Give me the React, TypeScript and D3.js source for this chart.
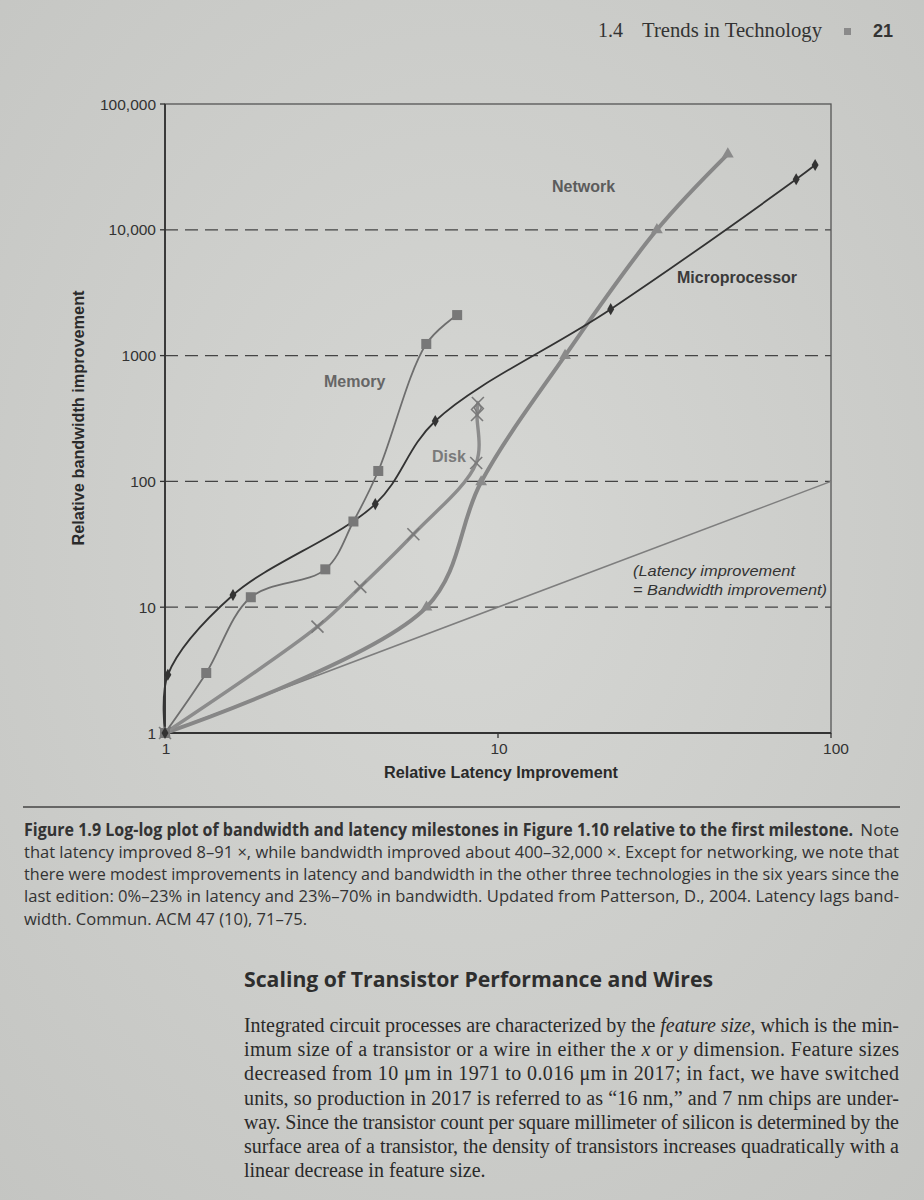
import React from 'react';
import * as d3 from 'd3';

// Milestones relative to the first one (latency x, bandwidth y)
const microLatency = [1, 1.02, 1.6, 4.28, 6.48, 21.8, 78.6, 89.6];
const microBandwidth = [1, 2.9, 12.5, 66, 302, 2340, 25200, 32700];
const memoryLatency = [1, 1.33, 1.81, 3.03, 3.68, 4.37, 6.09, 7.54];
const memoryBandwidth = [1, 3, 12, 20, 48, 121, 1237, 2100];
const diskLatency = [1, 2.87, 3.86, 5.57, 8.6, 8.65, 8.7];
const diskBandwidth = [1, 7, 14.5, 38, 140, 337, 420];
const networkLatency = [1, 6.1, 8.9, 15.9, 30, 49];
const networkBandwidth = [1, 10, 99, 1000, 10000, 40000];
const equalLatency = [1, 100];
const equalBandwidth = [1, 100];

const yTicks = [1, 10, 100, 1000, 10000, 100000];
const yTickLabels = ['1', '10', '100', '1000', '10,000', '100,000'];
const xTicks = [1, 10, 100];
const xTickLabels = ['1', '10', '100'];
const gridValues = [10, 100, 1000, 10000];

const captionLines = [
  'that latency improved 8–91 ×, while bandwidth improved about 400–32,000 ×. Except for networking, we note that',
  'there were modest improvements in latency and bandwidth in the other three technologies in the six years since the',
  'last edition: 0%–23% in latency and 23%–70% in bandwidth.  Updated from Patterson, D., 2004. Latency lags band-',
];

const serif = '"Liberation Serif", "Times New Roman", serif';
const sans = '"Liberation Sans", Arial, sans-serif';
const capFont = '"Open Sans", "Noto Sans", sans-serif';

const App: React.FC = () => {
  const x = d3.scaleLog().domain([1, 100]).range([165, 831]);
  const y = d3.scaleLog().domain([1, 100000]).range([733, 104]);

  const toPts = (lx: number[], by: number[]) => lx.map((v, i) => [x(v), y(by[i])] as [number, number]);
  const smooth = d3.line().curve(d3.curveCatmullRom.alpha(0.5));
  const straight = d3.line();

  const micro = toPts(microLatency, microBandwidth);
  const memory = toPts(memoryLatency, memoryBandwidth);
  const disk = toPts(diskLatency, diskBandwidth);
  const network = toPts(networkLatency, networkBandwidth);
  const equal = toPts(equalLatency, equalBandwidth);

  const tri = d3.symbol().type(d3.symbolTriangle).size(60)();
  const diamond = d3.symbol().type(d3.symbolDiamond).size(42)();

  const bodyLines: React.ReactNode[] = [
    <>Integrated circuit processes are characterized by the <tspan fontStyle="italic">feature size</tspan>, which is the min-</>,
    <>imum size of a transistor or a wire in either the <tspan fontStyle="italic">x</tspan> or <tspan fontStyle="italic">y</tspan> dimension. Feature sizes</>,
    <>decreased from 10 μm in 1971 to 0.016 μm in 2017; in fact, we have switched</>,
    <>units, so production in 2017 is referred to as “16 nm,” and 7 nm chips are under-</>,
    <>way. Since the transistor count per square millimeter of silicon is determined by the</>,
    <>surface area of a transistor, the density of transistors increases quadratically with a</>,
  ];

  return (
    <svg width={924} height={1200} style={{ position: 'absolute', left: 0, top: 0, display: 'block' }}>
      <defs>
        <radialGradient id="paper" cx="50%" cy="45%" r="75%">
          <stop offset="0%" stopColor="#d6d7d4" />
          <stop offset="100%" stopColor="#c4c5c2" />
        </radialGradient>
      </defs>
      <rect width={924} height={1200} fill="url(#paper)" />

      {/* running head */}
      <text x={598} y={37} fontFamily={serif} fontSize={20} fill="#333">1.4</text>
      <text x={642} y={37} fontFamily={serif} fontSize={20} fill="#333" textLength={180} lengthAdjust="spacingAndGlyphs">Trends in Technology</text>
      <rect x={844} y={28} width={7} height={7} fill="#8a8a8a" />
      <text x={873} y={37} fontFamily={sans} fontSize={18} fontWeight="bold" fill="#333">21</text>

      {/* dashed grid */}
      {gridValues.map(v => (
        <line key={v} x1={165} x2={831} y1={y(v)} y2={y(v)} stroke="#444" strokeWidth={1.3} strokeDasharray="13,7" />
      ))}

      {/* frame */}
      <rect x={165} y={104} width={666} height={629} fill="none" stroke="#555" strokeWidth={1.3} />
      <line x1={165} x2={165} y1={104} y2={733} stroke="#333" strokeWidth={1.8} />
      <line x1={165} x2={831} y1={733} y2={733} stroke="#333" strokeWidth={1.8} />

      {yTicks.map((v, i) => (
        <g key={v}>
          <line x1={160} x2={165} y1={y(v)} y2={y(v)} stroke="#333" strokeWidth={1.3} />
          <text x={156} y={y(v) + 5.5} textAnchor="end" fontFamily={sans} fontSize={15.5} fill="#333">{yTickLabels[i]}</text>
        </g>
      ))}
      {xTicks.map((v, i) => (
        <g key={v}>
          <line x1={x(v)} x2={x(v)} y1={733} y2={738} stroke="#333" strokeWidth={1.3} />
          <text x={x(v) + (i === 2 ? 5 : 1)} y={754} textAnchor="middle" fontFamily={sans} fontSize={15.5} fill="#333">{xTickLabels[i]}</text>
        </g>
      ))}

      <text x={501} y={778} textAnchor="middle" fontFamily={sans} fontSize={16} fontWeight="bold" fill="#2a2a2a" textLength={234} lengthAdjust="spacingAndGlyphs">Relative Latency Improvement</text>
      <text transform="translate(84,418) rotate(-90)" textAnchor="middle" fontFamily={sans} fontSize={16} fontWeight="bold" fill="#2a2a2a" textLength={255} lengthAdjust="spacingAndGlyphs">Relative bandwidth improvement</text>

      {/* series */}
      <path d={straight(equal) || ''} fill="none" stroke="#7e7e7e" strokeWidth={1.5} />
      <path d={smooth(network) || ''} fill="none" stroke="#878787" strokeWidth={4} strokeLinejoin="round" />
      <path d={smooth(disk) || ''} fill="none" stroke="#8c8c8c" strokeWidth={3.4} strokeLinejoin="round" />
      <path d={smooth(memory) || ''} fill="none" stroke="#6e6e6e" strokeWidth={1.8} />
      <path d={smooth(micro) || ''} fill="none" stroke="#333" strokeWidth={1.8} />

      {network.map(([px, py], i) => (
        <path key={'n' + i} d={tri || ''} transform={`translate(${px},${py})`} fill="#8a8a8a" />
      ))}
      {disk.map(([px, py], i) => (
        <g key={'d' + i} stroke="#7a7a7a" strokeWidth={1.6}>
          <line x1={px - 6} x2={px + 6} y1={py - 6} y2={py + 6} />
          <line x1={px - 6} x2={px + 6} y1={py + 6} y2={py - 6} />
        </g>
      ))}
      <path d={diamond || ''} transform={`translate(${disk[disk.length - 1][0]},${disk[disk.length - 1][1] + 5})`} fill="none" stroke="#7a7a7a" strokeWidth={1.5} />
      {memory.map(([px, py], i) => (
        <rect key={'m' + i} x={px - 5} y={py - 5} width={10} height={10} fill="#787878" />
      ))}
      {micro.map(([px, py], i) => (
        <path key={'p' + i} d={diamond || ''} transform={`translate(${px},${py})`} fill="#333" />
      ))}

      {/* series labels */}
      <text x={552} y={192} fontFamily={sans} fontSize={16} fontWeight="bold" fill="#5c5c5c">Network</text>
      <text x={677} y={283} fontFamily={sans} fontSize={16} fontWeight="bold" fill="#3a3a3a">Microprocessor</text>
      <text x={324} y={387} fontFamily={sans} fontSize={16} fontWeight="bold" fill="#666">Memory</text>
      <text x={432} y={462} fontFamily={sans} fontSize={16} fontWeight="bold" fill="#7a7a7a">Disk</text>
      <text x={633} y={576} fontFamily={sans} fontSize={15} fontStyle="italic" fill="#333" textLength={162} lengthAdjust="spacingAndGlyphs">(Latency improvement</text>
      <text x={633} y={595} fontFamily={sans} fontSize={15} fontStyle="italic" fill="#333" textLength={194} lengthAdjust="spacingAndGlyphs">= Bandwidth improvement)</text>

      {/* caption */}
      <line x1={23} x2={900} y1={807} y2={807} stroke="#444" strokeWidth={1.5} />
      <text x={24} y={836} fontFamily={capFont} fontSize={17} fontWeight="bold" fill="#333" textLength={829} lengthAdjust="spacingAndGlyphs">Figure 1.9  Log-log plot of bandwidth and latency milestones in Figure 1.10 relative to the first milestone.</text>
      <text x={899} y={836} textAnchor="end" fontFamily={capFont} fontSize={17} fill="#333">Note</text>
      {captionLines.map((t, i) => (
        <text key={i} x={24} y={858 + i * 22.2} fontFamily={capFont} fontSize={17} fill="#333" textLength={875} lengthAdjust="spacingAndGlyphs">{t}</text>
      ))}
      <text x={24} y={925} fontFamily={capFont} fontSize={17} fill="#333" textLength={283} lengthAdjust="spacingAndGlyphs">width. Commun. ACM 47 (10), 71–75.</text>

      {/* section heading and body */}
      <text x={244} y={987} fontFamily={capFont} fontSize={21} fontWeight="bold" fill="#2e2e2e" textLength={469} lengthAdjust="spacingAndGlyphs">Scaling of Transistor Performance and Wires</text>
      {bodyLines.map((t, i) => (
        <text key={i} x={244} y={1032 + i * 24.2} fontFamily={serif} fontSize={20} fill="#2a2a2a" textLength={655} lengthAdjust="spacing">{t}</text>
      ))}
      <text x={244} y={1177} fontFamily={serif} fontSize={20} fill="#2a2a2a">linear decrease in feature size.</text>
    </svg>
  );
};

export default App;
